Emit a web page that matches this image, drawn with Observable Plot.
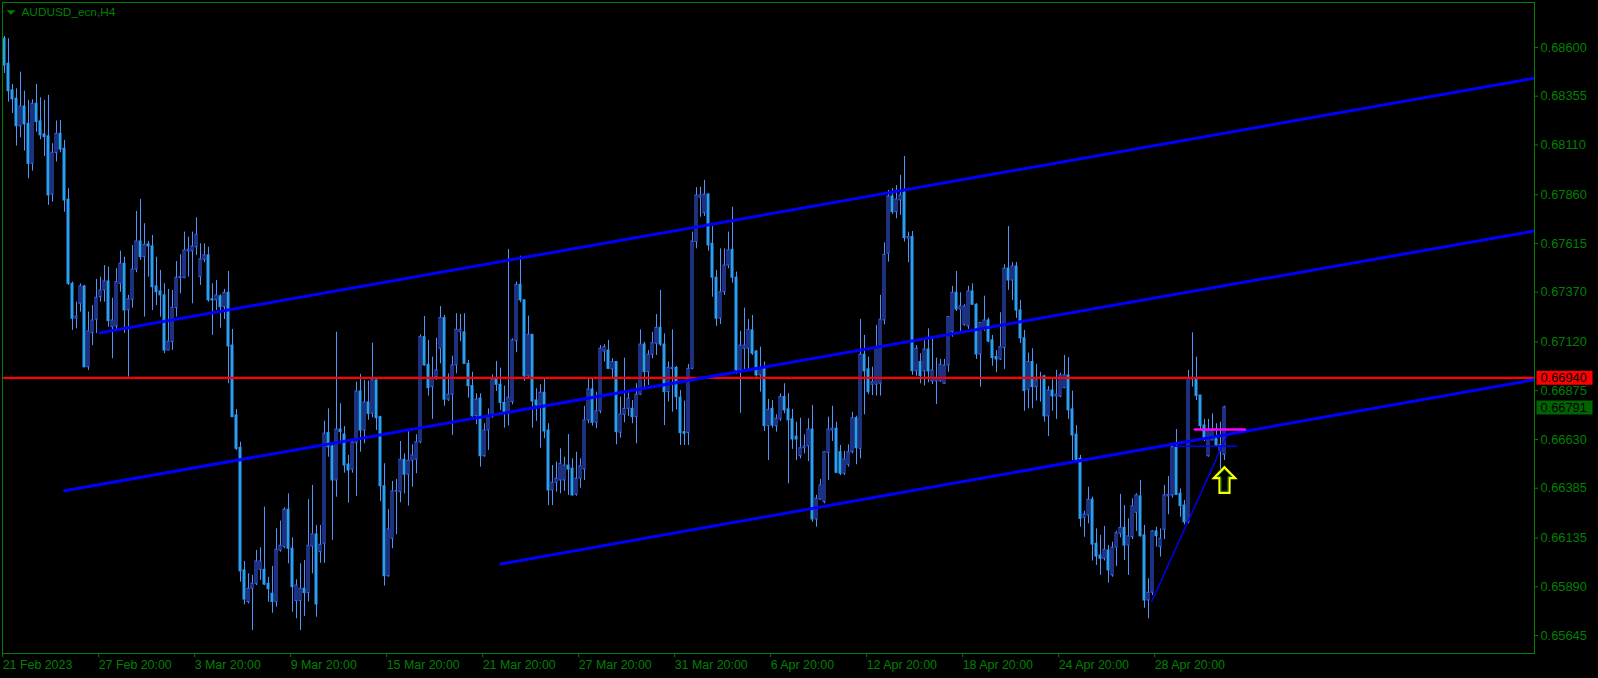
<!DOCTYPE html>
<html><head><meta charset="utf-8">
<script src="https://cdn.jsdelivr.net/npm/d3@7"></script>
<script src="https://cdn.jsdelivr.net/npm/@observablehq/plot@0.6"></script>
<style>html,body{margin:0;padding:0;background:#000;overflow:hidden}</style>
</head><body><div id="chart"></div>
<script>
// ---- data: AUDUSD H4 bars (index 0 = 21 Feb 2023 20:00) ----
const symbolTitle = "AUDUSD_ecn,H4";
const barOpen = [.68644,.68518,.68384,.68342,.68204,.68303,.68216,.68015,.68317,.68228,
.68163,.68153,.67860,.68069,.68166,.68091,.67835,.67412,.67237,.67312,
.67399,.66993,.67164,.67232,.67345,.67379,.67424,.67194,.67198,.67412,
.67513,.67280,.67332,.67483,.67625,.67546,.67610,.67600,.67399,.67374,
.67354,.67077,.67119,.67290,.67441,.67441,.67575,.67575,.67596,.67446,
.67533,.67555,.67334,.67329,.67349,.67295,.67367,.67102,.66751,.66588,
.65972,.65813,.65880,.65905,.65975,.65975,.65905,.65855,.65813,.66072,
.66089,.66277,.66081,.65818,.65818,.65880,.65858,.66092,.66153,.66064,
.66106,.66662,.66595,.66424,.66680,.66655,.66504,.66478,.66611,.66871,
.66675,.66816,.66759,.66927,.66742,.66395,.65943,.66131,.66369,.66365,
.66528,.66453,.66523,.66528,.66616,.67144,.67005,.66893,.66943,.67086,
.67240,.66830,.66855,.67002,.67169,.67168,.67010,.66898,.66747,.66835,
.66546,.66675,.66742,.66932,.66905,.66814,.66767,.66818,.67124,.67407,
.67329,.66947,.67156,.66826,.66801,.66865,.66675,.66374,.66412,.66424,
.66424,.66499,.66483,.66352,.66433,.66479,.66726,.66881,.66714,.66771,
.67072,.67077,.66982,.67019,.66664,.66754,.66784,.66784,.66742,.66855,
.67107,.66968,.67056,.67111,.67191,.67107,.66868,.66984,.66990,.66840,
.66667,.66662,.66985,.67622,.67845,.67767,.67861,.67613,.67443,.67237,
.67370,.67504,.67583,.67443,.66977,.67086,.67086,.67178,.67072,.66952,
.66988,.66697,.66784,.66697,.66731,.66843,.66781,.66731,.66644,.66546,
.66586,.66596,.66680,.66228,.66328,.66315,.66563,.66675,.66684,.66566,
.66458,.66503,.66566,.66737,.66583,.67056,.66982,.66905,.66905,.66910,
.67228,.67563,.67851,.67772,.67831,.67871,.67639,.67647,.66973,.67019,
.66972,.67082,.66922,.66922,.66922,.66910,.67002,.67169,.67367,.67283,
.67206,.67199,.67374,.67307,.67057,.67183,.67228,.67128,.67044,.67032,
.67089,.67489,.67429,.67499,.67278,.67138,.66880,.67019,.66893,.66940,
.66947,.66746,.66876,.66846,.66846,.66888,.66952,.66781,.66654,.66533,
.66237,.66248,.66327,.66106,.66047,.66031,.66072,.65947,.66086,.66156,
.66186,.66097,.66139,.66262,.66344,.66148,.65821,.65860,.66168,.66089,
.66176,.66344,.66349,.66591,.66357,.66298,.66214,.66932,.66935,.66851,
.66700,.66546,.66625,.66634,.66570,.66553];
const barHigh = [.68655,.68644,.68414,.68392,.68476,.68380,.68334,.68337,.68414,.68347,
.68334,.68359,.68116,.68230,.68233,.68133,.67890,.67421,.67320,.67412,
.67404,.67270,.67303,.67434,.67446,.67504,.67496,.67340,.67488,.67576,
.67546,.67354,.67605,.67776,.67836,.67714,.67625,.67655,.67546,.67479,
.67412,.67384,.67379,.67524,.67558,.67672,.67647,.67672,.67744,.67613,
.67613,.67596,.67412,.67429,.67357,.67384,.67474,.67183,.66781,.66616,
.66017,.65955,.65947,.66072,.66086,.66290,.65938,.65992,.66181,.66220,
.66287,.66357,.66136,.65925,.66005,.66022,.66327,.66399,.66198,.66198,
.66722,.66784,.66600,.67169,.66809,.66695,.66550,.66621,.66918,.66957,
.66927,.66923,.67114,.66930,.66747,.66508,.66278,.66419,.66429,.66620,
.66558,.66670,.66603,.66654,.67156,.67248,.67128,.67044,.67139,.67298,
.67253,.66960,.67049,.67262,.67258,.67262,.67027,.66968,.66860,.66860,
.66709,.66784,.66955,.67022,.66988,.66898,.67585,.67136,.67421,.67551,
.67329,.67250,.67156,.66885,.66905,.66932,.66709,.66499,.66516,.66583,
.66541,.66655,.66533,.66566,.66533,.66796,.66935,.66932,.66868,.67102,
.67106,.67128,.67036,.67022,.66843,.67039,.66876,.66826,.66910,.67181,
.67119,.67077,.67169,.67258,.67379,.67161,.67019,.67181,.66997,.66876,
.66823,.67007,.67672,.67895,.67898,.67932,.67865,.67700,.67479,.67588,
.67588,.67672,.67797,.67471,.67173,.67290,.67232,.67253,.67077,.67094,
.67019,.66831,.66826,.66754,.66860,.66910,.66860,.66781,.66717,.66737,
.66654,.66734,.66801,.66349,.66429,.66570,.66742,.66797,.66717,.66600,
.66570,.66603,.66767,.66747,.67233,.67153,.67044,.66993,.67203,.67354,
.67618,.67881,.67891,.67906,.67957,.68052,.67672,.67675,.67102,.67061,
.67136,.67186,.67136,.67039,.67032,.67032,.67248,.67399,.67474,.67367,
.67307,.67400,.67412,.67312,.67216,.67350,.67240,.67153,.67077,.67267,
.67508,.67700,.67519,.67519,.67329,.67178,.67064,.67086,.67007,.66968,
.66952,.66896,.66930,.66977,.66963,.67052,.67041,.66873,.66700,.66550,
.66270,.66390,.66340,.66181,.66148,.66193,.66097,.66114,.66169,.66354,
.66298,.66231,.66332,.66357,.66424,.66198,.65930,.66173,.66189,.66181,
.66399,.66444,.66600,.66680,.66382,.66324,.66977,.67166,.67044,.66851,
.66731,.66731,.66759,.66709,.66717,.66797];
const barLow = [.68469,.68325,.68268,.68104,.68146,.68079,.67940,.67978,.68174,.68136,
.68052,.67806,.67823,.68024,.68071,.67772,.67404,.67178,.67186,.67270,
.66990,.66977,.67102,.67163,.67320,.67320,.67194,.67036,.67178,.67370,
.67163,.66943,.67290,.67468,.67530,.67245,.67446,.67278,.67303,.67245,
.67061,.67077,.67077,.67245,.67362,.67438,.67446,.67312,.67555,.67404,
.67519,.67320,.67153,.67278,.67189,.67233,.66910,.66742,.66575,.65913,
.65799,.65804,.65670,.65896,.65922,.65896,.65813,.65757,.65787,.66064,
.66081,.66005,.65762,.65729,.65670,.65741,.65813,.65955,.65737,.66008,
.66008,.66541,.66123,.66340,.66608,.66461,.66310,.66461,.66344,.66566,
.66608,.66726,.66739,.66675,.66318,.65893,.65938,.66081,.66151,.66312,
.66357,.66295,.66390,.66458,.66608,.66998,.66848,.66731,.66927,.67010,
.66797,.66821,.66650,.66960,.67122,.67010,.66838,.66742,.66704,.66491,
.66541,.66575,.66737,.66871,.66776,.66687,.66697,.66804,.67066,.67317,
.66922,.66935,.66687,.66721,.66586,.66634,.66298,.66298,.66365,.66357,
.66369,.66349,.66345,.66345,.66385,.66424,.66709,.66697,.66684,.66759,
.67019,.66982,.66938,.66603,.66637,.66714,.66746,.66709,.66608,.66851,
.66876,.66901,.67036,.67052,.67097,.66700,.66818,.66767,.66779,.66600,
.66600,.66600,.66980,.67588,.67747,.67751,.67576,.67345,.67198,.67208,
.67354,.67488,.67415,.66957,.66762,.66977,.66980,.67052,.66943,.66868,
.66670,.66524,.66687,.66667,.66721,.66759,.66407,.66580,.66524,.66533,
.66558,.66519,.66214,.66189,.66323,.66307,.66424,.66620,.66458,.66449,
.66449,.66491,.66558,.66503,.66533,.66754,.66855,.66851,.66848,.66848,
.67206,.67521,.67761,.67739,.67756,.67622,.67518,.66952,.66948,.66910,
.66898,.66915,.66906,.66806,.66918,.66906,.66968,.67144,.67273,.67173,
.67199,.67183,.67303,.67032,.66893,.67173,.67116,.66998,.66965,.67027,
.66982,.67379,.67329,.67238,.67112,.66772,.66784,.66784,.66823,.66818,
.66717,.66645,.66772,.66731,.66840,.66885,.66731,.66524,.66524,.66189,
.66139,.66206,.66019,.65997,.65947,.66019,.65908,.65938,.65992,.66136,
.66022,.65947,.66127,.66168,.66139,.65782,.65729,.65846,.66089,.66039,
.66127,.66252,.66335,.66349,.66240,.66201,.66206,.66893,.66826,.66675,
.66620,.66541,.66625,.66596,.66479,.66524];
const barClose = [.68509,.68380,.68339,.68204,.68303,.68213,.68015,.68317,.68225,.68158,
.68149,.67856,.68071,.68166,.68087,.67831,.67412,.67237,.67248,.67399,
.66993,.67173,.67228,.67342,.67379,.67424,.67225,.67228,.67421,.67513,
.67278,.67334,.67484,.67625,.67546,.67608,.67600,.67395,.67370,.67354,
.67077,.67122,.67292,.67443,.67446,.67580,.67583,.67600,.67659,.67535,
.67555,.67329,.67329,.67354,.67295,.67367,.67097,.66742,.66583,.65967,
.65826,.65880,.65905,.66017,.66017,.65901,.65878,.65813,.66076,.66096,
.66277,.66081,.65888,.65896,.65880,.65858,.66096,.66153,.65801,.66101,
.66659,.66591,.66424,.66680,.66667,.66499,.66474,.66615,.66871,.66675,
.66816,.66759,.66927,.66737,.66395,.65943,.66178,.66369,.66371,.66528,
.66453,.66523,.66550,.66616,.67144,.67002,.66888,.66938,.66977,.67240,
.66830,.66855,.67002,.67181,.67181,.67010,.66898,.66747,.66831,.66546,
.66675,.66742,.66932,.66905,.66814,.66769,.66840,.67128,.67407,.67329,
.66947,.67156,.66821,.66801,.66865,.66670,.66374,.66412,.66433,.66508,
.66499,.66479,.66349,.66433,.66496,.66726,.66881,.66714,.66771,.67086,
.67094,.66985,.67019,.66667,.66756,.66784,.66835,.66742,.66855,.67107,
.66968,.67056,.67114,.67191,.67107,.66868,.66990,.66990,.66843,.66662,
.66659,.66985,.67625,.67856,.67856,.67861,.67605,.67443,.67237,.67370,
.67504,.67580,.67443,.66977,.67102,.67102,.67181,.67061,.66952,.66988,
.66697,.66779,.66700,.66734,.66843,.66776,.66726,.66630,.66630,.66586,
.66595,.66680,.66228,.66332,.66399,.66566,.66680,.66684,.66463,.66458,
.66530,.66566,.66737,.66586,.67056,.66972,.66868,.66918,.67089,.67232,
.67558,.67851,.67772,.67836,.67856,.67642,.67647,.66973,.67086,.66948,
.67082,.66972,.66977,.66935,.67005,.67002,.67245,.67367,.67283,.67298,
.67298,.67374,.67307,.67057,.67216,.67228,.67122,.67039,.67032,.67094,
.67488,.67429,.67499,.67278,.67138,.66873,.67019,.66893,.66927,.66935,
.66746,.66876,.66846,.66856,.66952,.66952,.66776,.66650,.66528,.66231,
.66253,.66327,.66102,.66042,.66031,.66076,.65972,.66086,.66159,.66186,
.66097,.66143,.66295,.66349,.66144,.65821,.65860,.66168,.66144,.66131,
.66349,.66352,.66591,.66352,.66295,.66214,.66935,.66935,.66848,.66697,
.66637,.66675,.66675,.66600,.66603,.66791];

const dateTickBars = [0,24,48,72,96,120,144,168,192,216,240,264,288];
const dateTickLabels = ["21 Feb 2023","27 Feb 20:00","3 Mar 20:00","9 Mar 20:00","15 Mar 20:00",
  "21 Mar 20:00","27 Mar 20:00","31 Mar 20:00","6 Apr 20:00","12 Apr 20:00","18 Apr 20:00",
  "24 Apr 20:00","28 Apr 20:00"];
const priceTicks = [0.68600,0.68355,0.68110,0.67860,0.67615,0.67370,0.67120,0.66875,0.66630,0.66385,0.66135,0.65890,0.65645];

// drawn objects (bar index, price)
const channelLines = [
  {bar1: 23.95, price1: 0.671665, bar2: 382.7, price2: 0.684463},
  {bar1: 15.05, price1: 0.663726, bar2: 382.7, price2: 0.676785},
  {bar1: 124.1, price1: 0.660043, bar2: 382.7, price2: 0.669314}
];
const supportLine = {bar1: 286.8, price1: 0.65816, bar2: 305.7, price2: 0.66654};
const shortLevel = {bar1: 292.6, bar2: 308.0, price: 0.66596};
const magentaLevel = {bar1: 297.6, bar2: 310.1, price: 0.66680};
const redLevel = 0.66940;
const bidPrice = 0.66791;
const arrowPoint = {bar: 305, price: 0.664264};

// ---- styling ----
const GREEN = "#008000";
const WICK = "#4f94ff";
const BEAR_FILL = "#2a9df4";
const BULL_EDGE = "#3d63ff";
const FONT = "'Liberation Sans', Arial, sans-serif";

const bars = barOpen.map((o, i) => ({i, open: o, high: barHigh[i], low: barLow[i], close: barClose[i]}));
const bulls = bars.filter(d => d.close >= d.open);
const bears = bars.filter(d => d.close < d.open);
const seg = (o) => [{x: o.bar1, y: o.price1}, {x: o.bar2, y: o.price2}];
const tickLabel = new Map(dateTickBars.map((b, k) => [b, dateTickLabels[k]]));

const arrowOuter = [[0,-12.8],[10.7,-1.8],[5,-1.8],[5,12.8],[-5,12.8],[-5,-1.8],[-10.7,-1.8]];
const arrowInner = [[0,-10.5],[6.9,-3.4],[3.4,-3.4],[3.4,11.2],[-3.4,11.2],[-3.4,-3.4],[-6.9,-3.4]];
const polySymbol = (pts) => ({draw(ctx) { ctx.moveTo(pts[0][0], pts[0][1]); for (let k = 1; k < pts.length; k++) ctx.lineTo(pts[k][0], pts[k][1]); ctx.closePath(); }});
const boxSymbol = {draw(ctx) { ctx.rect(-28, -7, 56, 14); }};
const triSymbol = polySymbol([[-4.5,-2.3],[4.5,-2.3],[0,2.3]]);

const chart = Plot.plot({
  width: 1598, height: 678,
  marginLeft: 2, marginRight: 64, marginTop: 2, marginBottom: 25,
  style: {background: "#000", color: GREEN, fontFamily: FONT, fontSize: "12.8px"},
  x: {type: "linear", domain: [-0.5, 382.5], axis: null},
  y: {type: "linear", domain: [0.655546, 0.688257], axis: null},
  marks: [
    Plot.axisY({anchor: "right", ticks: priceTicks, tickFormat: d => d.toFixed(5), tickSize: 3, tickPadding: 3, fontSize: 12.8, fill: GREEN}),
    Plot.axisX({anchor: "bottom", ticks: dateTickBars, tickFormat: d => tickLabel.get(d), textAnchor: "start", tickSize: 4, tickPadding: 3, dx: -1.8, fontSize: 12.4, fill: GREEN}),
    Plot.ruleX(bars, {x: "i", y1: "low", y2: "high", stroke: WICK, strokeWidth: 1}),
    Plot.rect(bears, {x1: d => d.i - 0.25, x2: d => d.i + 0.25, y1: "open", y2: "close", fill: BEAR_FILL, stroke: BEAR_FILL, strokeWidth: 1}),
    Plot.rect(bulls, {x1: d => d.i - 0.25, x2: d => d.i + 0.25, y1: "open", y2: "close", fill: "#000", stroke: BULL_EDGE, strokeWidth: 1}),
    Plot.ruleY([redLevel], {stroke: "#ff0000", strokeWidth: 2.3}),
    ...channelLines.map(c => Plot.line(seg(c), {x: "x", y: "y", stroke: "#0000ff", strokeWidth: 3, clip: true})),
    Plot.line(seg(supportLine), {x: "x", y: "y", stroke: "#0000ff", strokeWidth: 1.4}),
    Plot.line([{x: shortLevel.bar1, y: shortLevel.price}, {x: shortLevel.bar2, y: shortLevel.price}], {x: "x", y: "y", stroke: "#0000ff", strokeWidth: 1.5}),
    Plot.line([{x: magentaLevel.bar1, y: magentaLevel.price}, {x: magentaLevel.bar2, y: magentaLevel.price}], {x: "x", y: "y", stroke: "#ff00ff", strokeWidth: 2.5}),
    Plot.dot([arrowPoint], {x: "bar", y: "price", symbol: polySymbol(arrowOuter), fill: "none", stroke: "#ffff00", strokeWidth: 2.2}),
    Plot.dot([arrowPoint], {x: "bar", y: "price", symbol: polySymbol(arrowInner), fill: "none", stroke: "#008000", strokeWidth: 1}),
    Plot.frame({stroke: GREEN}),
    Plot.dot([redLevel], {y: d => d, frameAnchor: "right", dx: 30, symbol: boxSymbol, fill: "#ff0000", stroke: "none"}),
    Plot.text([redLevel], {y: d => d, frameAnchor: "right", dx: 6, textAnchor: "start", text: d => d.toFixed(5), fill: "#000", fontSize: 12.8}),
    Plot.dot([bidPrice], {y: d => d, frameAnchor: "right", dx: 30, symbol: boxSymbol, fill: "#006400", stroke: "none"}),
    Plot.text([bidPrice], {y: d => d, frameAnchor: "right", dx: 6, textAnchor: "start", text: d => d.toFixed(5), fill: "#000", fontSize: 12.8}),
    Plot.dot([0], {frameAnchor: "top-left", dx: 8.5, dy: 10, symbol: triSymbol, fill: GREEN, stroke: "none"}),
    Plot.text([symbolTitle], {frameAnchor: "top-left", dx: 19, dy: 5, text: d => d, textAnchor: "start", lineAnchor: "top", fill: GREEN, fontSize: 11.8})
  ]
});
document.getElementById("chart").appendChild(chart);
</script>
</body></html>
